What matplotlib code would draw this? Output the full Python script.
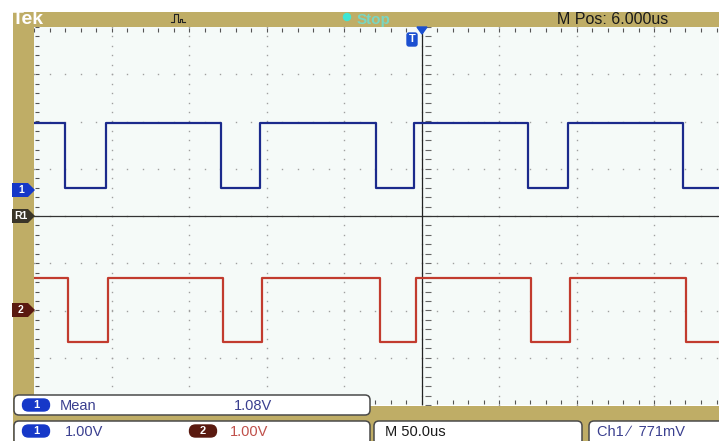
import numpy as np
import matplotlib
matplotlib.use("Agg")
import matplotlib.pyplot as plt
from matplotlib.patches import Rectangle, FancyBboxPatch, Polygon, Circle

plt.rcParams['font.family'] = ['Liberation Sans', 'DejaVu Sans']

# timebase 50 us/div, 1 V/div on both channels
t_left, t_right = -250.0, 191.6
ch1_edges = [-229.7, -203.9, -129.7, -104.5, -29.7, -5.2, 68.4, 94.2, 168.4]   # us
ch1_high, ch1_low, ch1_offset = 1.42, 0.04, 0.55                               # V, V, div
ch2_edges = [-228.4, -202.6, -128.4, -103.2, -27.1, -3.9, 70.3, 95.5, 170.3]
ch2_high, ch2_low, ch2_offset = 0.68, -0.68, -1.99

mean_label, mean_value = "Mean", "1.08V"
ch1_scale, ch2_scale = "1.00V", "1.00V"
time_scale = "M 50.0us"
trig_label = "Ch1 \u2215  771mV"
mpos_label = "M Pos: 6.000us"

gold = "#bfad66"
blue = "#1b2a8c"
red = "#c23b2e"

fig = plt.figure(figsize=(7.19, 4.41), dpi=100)
fig.patch.set_facecolor("white")

# scope screen
ax = fig.add_axes([34 / 719, 36 / 441, 685 / 719, 378 / 441])
ax.set_facecolor("#f5faf8")
ax.set_xlim(t_left, t_right)
ax.set_ylim(-4, 4)
ax.set_xticks([])
ax.set_yticks([])
for s in ax.spines.values():
    s.set_visible(False)

# graticule dots
for k in range(1, 9):
    xv = t_left + 50 * k
    yy = np.arange(-4, 4.01, 0.2)
    ax.plot(np.full_like(yy, xv), yy, ls="none", marker="s", ms=1.0, color="#a0a0a0", mew=0)
for yv in range(-3, 4):
    xx = np.arange(t_left, t_right, 10)
    ax.plot(xx, np.full_like(xx, yv), ls="none", marker="s", ms=1.0, color="#a0a0a0", mew=0)
# edge ticks
xx = np.arange(t_left, t_right, 10)
ax.plot(xx, np.full_like(xx, 3.93), ls="none", marker="|", ms=3, color="#555555", mew=0.8)
ax.plot(xx, np.full_like(xx, -3.93), ls="none", marker="|", ms=3, color="#555555", mew=0.8)
yy = np.arange(-4, 4.01, 0.2)
ax.plot(np.full_like(yy, t_left + 2), yy, ls="none", marker="_", ms=3, color="#555555", mew=0.8)
ax.plot(np.full_like(yy, 4), yy, ls="none", marker="_", ms=4, color="#666666", mew=0.8)

# reference line and trigger line
ax.axhline(0, color="#333333", lw=0.9)
ax.axvline(0, color="#222222", lw=0.9)


def square(edges, high, low, offset):
    x = [t_left] + list(edges) + [t_right]
    y = []
    lev = high
    for i in range(len(edges) + 1):
        y.append(lev + offset)
        lev = low if lev == high else high
    y.append(y[-1])
    return x, y


x1, y1 = square(ch1_edges, ch1_high, ch1_low, ch1_offset)
x2, y2 = square(ch2_edges, ch2_high, ch2_low, ch2_offset)
ax.plot(x1, y1, drawstyle="steps-post", color=blue, lw=1.6)
ax.plot(x2, y2, drawstyle="steps-post", color=red, lw=1.6)

# overlay in pixel coordinates
ov = fig.add_axes([0, 0, 1, 1])
ov.set_xlim(0, 719)
ov.set_ylim(441, 0)
ov.axis("off")
ov.patch.set_alpha(0)

ov.add_patch(Rectangle((13, 12), 706, 15, color=gold, lw=0))
ov.add_patch(Rectangle((13, 12), 21, 400, color=gold, lw=0))
ov.add_patch(Rectangle((13, 406), 706, 35, color=gold, lw=0))
ov.text(12, 19.5, "Tek", color="white", fontsize=14, fontweight="bold", va="center")

# pulse icon
ov.plot([171, 174, 174, 178, 178, 180, 180, 182, 182, 185],
        [22, 22, 14, 14, 22, 22, 19, 19, 22, 22], color="#222222", lw=0.8)

ov.add_patch(Circle((347, 17), 3.5, color="#3fe6d6"))
ov.text(357, 20, "Stop", color="#78d6c2", fontsize=11, fontweight="bold", va="center")
ov.text(557, 20, mpos_label, color="#1a1a1a", fontsize=11.5, va="center")

# trigger markers
ov.add_patch(Polygon([[417, 27], [427, 27], [422, 34]], color="#1b4fd0"))
ov.add_patch(FancyBboxPatch((407, 33), 10, 13, boxstyle="round,pad=0,rounding_size=2",
                            color="#1b4fd0"))
ov.text(412, 39.5, "T", color="white", fontsize=8, fontweight="bold", ha="center", va="center")


def tag(y, text, face):
    ov.add_patch(Polygon([[12, y - 7], [28, y - 7], [35, y], [28, y + 7], [12, y + 7]],
                         color=face, lw=0))
    ov.text(21, y, text, color="white", fontsize=7.5, fontweight="bold", ha="center", va="center")


tag(190, "1", "#1638c8")
tag(216, "R1", "#3a3528")
tag(310, "2", "#5a1a10")

# measurement and status boxes
def box(x0, y0, w, h):
    ov.add_patch(FancyBboxPatch((x0, y0), w, h, boxstyle="round,pad=0,rounding_size=5",
                                facecolor="white", edgecolor="#4a4a4a", lw=1.1))


def pill(x, y, text, face):
    ov.add_patch(FancyBboxPatch((x - 13.5, y - 6), 27, 12, boxstyle="round,pad=0,rounding_size=6",
                                color=face))
    ov.text(x, y, text, color="white", fontsize=8, fontweight="bold", ha="center", va="center")


box(14, 395, 356, 20)
pill(36, 405, "1", "#1638c8")
ov.text(60, 405.5, mean_label, color="#3a3f8f", fontsize=10.5, va="center")
ov.text(234, 405.5, mean_value, color="#3a3f8f", fontsize=10.5, va="center")

box(14, 421, 356, 24)
pill(36, 431, "1", "#1638c8")
ov.text(65, 431.5, ch1_scale, color="#3a3f8f", fontsize=10.5, va="center")
pill(203, 431, "2", "#5a1a10")
ov.text(230, 431.5, ch2_scale, color="#c0504a", fontsize=10.5, va="center")

box(374, 421, 208, 24)
ov.text(385, 431.5, time_scale, color="#1a1a1a", fontsize=10.5, va="center")
box(589, 421, 140, 24)
ov.text(597, 431.5, trig_label, color="#3a3f8f", fontsize=10.5, va="center")

fig.savefig("out.png", dpi=100)
